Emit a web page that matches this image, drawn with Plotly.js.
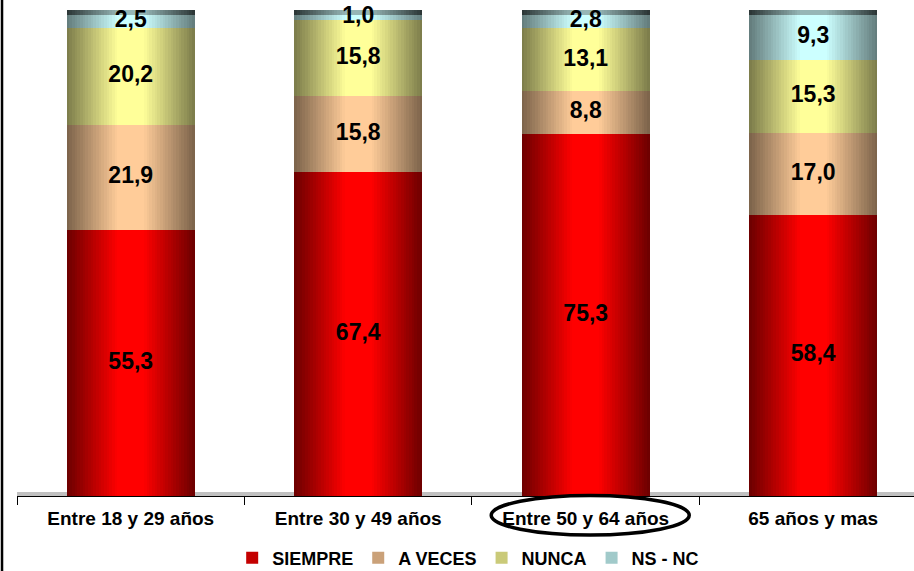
<!DOCTYPE html>
<html>
<head>
<meta charset="utf-8">
<script src="https://cdn.plot.ly/plotly-3.0.1.min.js"></script>
<style>
  html, body { margin: 0; padding: 0; background: #ffffff; }
  #chart { width: 914px; height: 571px; }
</style>
</head>
<body>
<div id="chart"></div>
<script>
// Age groups along the x axis
const categories = ['Entre 18 y 29 años', 'Entre 30 y 49 años', 'Entre 50 y 64 años', '65 años y mas'];

// Percentages per answer, bottom to top of each stack
const siempre = [55.3, 67.4, 75.3, 58.4];
const aVeces  = [21.9, 15.8, 8.8, 17.0];
const nunca   = [20.2, 15.8, 13.1, 15.3];
const nsNc    = [2.5, 1.0, 2.8, 9.3];

const seriesNames = ['SIEMPRE', 'A VECES', 'NUNCA', 'NS - NC'];
const seriesValues = [siempre, aVeces, nunca, nsNc];

// Styling: bright centre colour of each cylinder, darkened towards the edges
const centerColors = [[255, 0, 0], [255, 204, 153], [255, 255, 153], [204, 255, 255]];
const edgeFactor = [0.42, 0.48, 0.48, 0.48];
const capCenter = [150, 182, 182];
const capEdge = [42, 52, 52];
const capHeight = 1.05;
const barWidth = 0.5626;
const levels = 24;
const FONT = 'Liberation Sans, Arial, sans-serif';

function rgb(c) { return 'rgb(' + c.map(v => Math.round(v)).join(',') + ')'; }
function shade(center, edgeF, d) {
  const g = Math.min(1, (1 - d) / 0.8);
  const f = edgeF + (1 - edgeF) * g;
  return rgb(center.map(v => v * f));
}
function mix(a, b, d) {
  const g = Math.min(1, (1 - d) / 0.8);
  return rgb(a.map((v, i) => b[i] + (v - b[i]) * g));
}

const traces = [];
const bases = [];
let running = categories.map(() => 0);
seriesValues.forEach((vals, s) => {
  const base = running.slice();
  bases.push(base);
  // nested bars, widest (darkest) first, narrowest (brightest) on top
  for (let L = 0; L < levels; L++) {
    const d = 1 - (L + 0.5) / levels;
    traces.push({
      type: 'bar',
      x: categories,
      y: vals,
      base: base,
      width: barWidth * (1 - L / levels),
      marker: { color: shade(centerColors[s], edgeFactor[s], d), line: { width: 0 } },
      name: seriesNames[s],
      showlegend: L === Math.round(levels * 0.45),
      hoverinfo: 'skip'
    });
  }
  running = running.map((v, i) => v + vals[i]);
});

// dark rim on top of each cylinder
const totals = running;
for (let L = 0; L < levels; L++) {
  const d = 1 - (L + 0.5) / levels;
  traces.push({
    type: 'bar',
    x: categories,
    y: categories.map(() => capHeight),
    base: totals,
    width: barWidth * (1 - L / levels),
    marker: { color: mix(capCenter, capEdge, d), line: { width: 0 } },
    showlegend: false,
    hoverinfo: 'skip'
  });
}

// value labels centred in every segment
seriesValues.forEach((vals, s) => {
  traces.push({
    type: 'scatter',
    mode: 'text',
    x: categories,
    y: vals.map((v, i) => bases[s][i] + v / 2),
    text: vals.map(v => v.toFixed(1).replace('.', ',')),
    textposition: 'middle center',
    textfont: { family: FONT, size: 23, color: '#000000', weight: 'bold' },
    cliponaxis: false,
    showlegend: false,
    hoverinfo: 'skip'
  });
});

const layout = {
  width: 914,
  height: 571,
  margin: { l: 17, r: 0, t: 0, b: 75, autoexpand: false },
  paper_bgcolor: '#ffffff',
  plot_bgcolor: '#ffffff',
  barmode: 'overlay',
  bargap: 0,
  showlegend: true,
  legend: {
    orientation: 'h',
    x: 0.503,
    xanchor: 'center',
    y: -0.088,
    yanchor: 'top',
    font: { family: FONT, size: 18, color: '#000000', weight: 'bold' },
    traceorder: 'normal',
    itemwidth: 30,
    bgcolor: 'rgba(0,0,0,0)'
  },
  xaxis: {
    type: 'category',
    range: [-0.5, 3.443],
    tickson: 'boundaries',
    ticks: 'outside',
    ticklen: 8,
    tickwidth: 1,
    tickcolor: '#000000',
    ticklabelstandoff: 5,
    showline: true,
    linecolor: '#000000',
    linewidth: 1,
    showgrid: false,
    zeroline: false,
    automargin: false,
    tickfont: { family: FONT, size: 19, color: '#000000', weight: 'bold' },
    fixedrange: true
  },
  yaxis: {
    range: [0, 103.12],
    visible: false,
    showgrid: false,
    zeroline: false,
    automargin: false,
    fixedrange: true
  },
  shapes: [
    // grey floor under the cylinders
    { type: 'rect', xref: 'paper', yref: 'y', x0: 0, x1: 1, y0: 0, y1: 0.83,
      fillcolor: '#c0c0c0', line: { width: 0 }, layer: 'below' },
    // highlight ring around one age group
    { type: 'circle', xref: 'x', yref: 'paper', x0: 1.5846, x1: 2.455, y0: 0.001, y1: -0.0786,
      line: { color: '#000000', width: 3.5 }, layer: 'above' },
    // chart frame on the left
    { type: 'line', xref: 'paper', yref: 'paper', x0: -0.0167, x1: -0.0167, y0: -0.2, y1: 1.05,
      line: { color: '#000000', width: 2.5 } }
  ]
};

Plotly.newPlot('chart', traces, layout, { displayModeBar: false, staticPlot: true });
</script>
</body>
</html>
